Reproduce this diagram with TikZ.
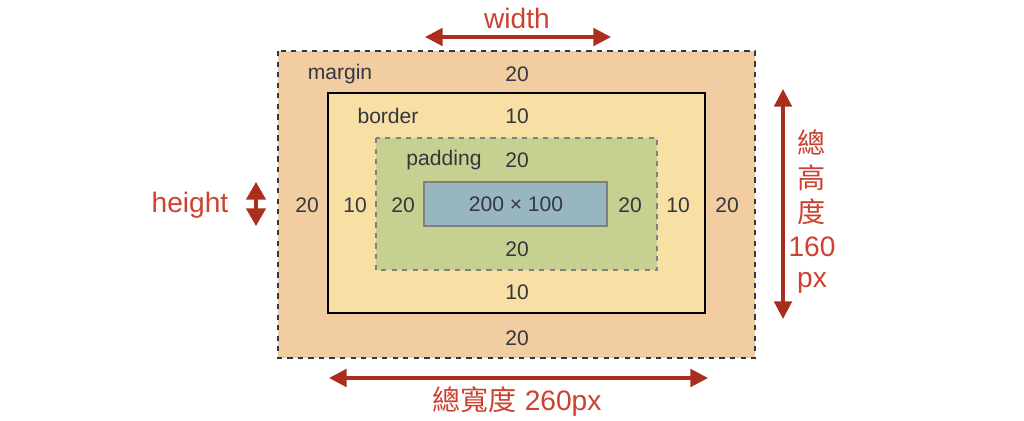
\documentclass[tikz,border=0pt]{standalone}
\usepackage{fontspec}
\setmainfont{Liberation Sans}
\newfontfamily\cjk{Noto Sans CJK TC}
\usetikzlibrary{arrows.meta}
\definecolor{marginC}{HTML}{F3CDA2}
\definecolor{borderC}{HTML}{F8DFA3}
\definecolor{paddingC}{HTML}{C6D191}
\definecolor{contentC}{HTML}{97B6C0}
\definecolor{redC}{HTML}{CC4130}
\definecolor{arrowC}{HTML}{AA2E1E}
\definecolor{txtC}{HTML}{333840}
\begin{document}
\begin{tikzpicture}[
  x=0.02cm,y=-0.02cm,
  num/.style={text=txtC,font=\fontsize{12}{14}\selectfont,inner sep=0pt},
  red/.style={text=redC,font=\fontsize{16}{18}\selectfont,inner sep=0pt},
  dim/.style={arrowC,line width=1.8pt,{Triangle[length=10pt,width=10pt]}-{Triangle[length=10pt,width=10pt]}}
]
  \useasboundingbox (0,0) rectangle (1024,420);
  % boxes
  \draw[fill=marginC,draw=txtC,dashed,line width=0.7pt] (278,51) rectangle (755,358);
  \draw[fill=borderC,draw=black,line width=1pt] (328,93) rectangle (705,313);
  \draw[fill=paddingC,draw=gray,dashed,line width=0.7pt] (376,138) rectangle (657,270);
  \draw[fill=contentC,draw=gray,line width=1pt] (424,182) rectangle (607,226);
  \node[num] (content) at (516,204) {200 × 100};

  % labels
  \node[num] (mname) at (340,74) {margin};
  \node[num] (mtop)  at (517,74) {20};
  \node[num] (bname) at (388,116) {border};
  \node[num] (btop)  at (517,116) {10};
  \node[num] (pname) at (444,160) {padding};
  \node[num] (ptop)  at (517,160) {20};
  \node[num] (mleft) at (307,205) {20};
  \node[num] (bleft) at (355,205) {10};
  \node[num] (pleft) at (403,205) {20};
  \node[num] (pright) at (630,205) {20};
  \node[num] (bright) at (678,205) {10};
  \node[num] (mright) at (727,205) {20};
  \node[num] (pbot) at (517,249) {20};
  \node[num] (bbot) at (517,292) {10};
  \node[num] (mbot) at (517,338) {20};

  % dimensions
  \coordinate (w1) at (425,37);
  \coordinate (w2) at (611,37);
  \draw[dim] (w1) -- (w2);
  \node[red] (wlabel) at (517,18) {width};

  \coordinate (h1) at (256,182);
  \coordinate (h2) at (256,226);
  \draw[dim,{Triangle[length=10pt,width=11pt]}-{Triangle[length=10pt,width=11pt]}] (h1) -- (h2);
  \node[red] (hlabel) at (190,205) {height};

  \coordinate (th1) at (783,89);
  \coordinate (th2) at (783,319);
  \draw[dim] (th1) -- (th2);
  \node[red] (t1) at (812,142) {\cjk 總};
  \node[red] (t2) at (812,178) {\cjk 高};
  \node[red] (t3) at (812,212) {\cjk 度};
  \node[red] (t4) at (812,247) {160};
  \node[red] (t5) at (812,283) {px};

  \coordinate (tw1) at (329,378);
  \coordinate (tw2) at (708,378);
  \draw[dim] (tw1) -- (tw2);
  \node[red] (twlabel) at (517,402) {{\cjk 總寬度} 260px};
\end{tikzpicture}
\end{document}
